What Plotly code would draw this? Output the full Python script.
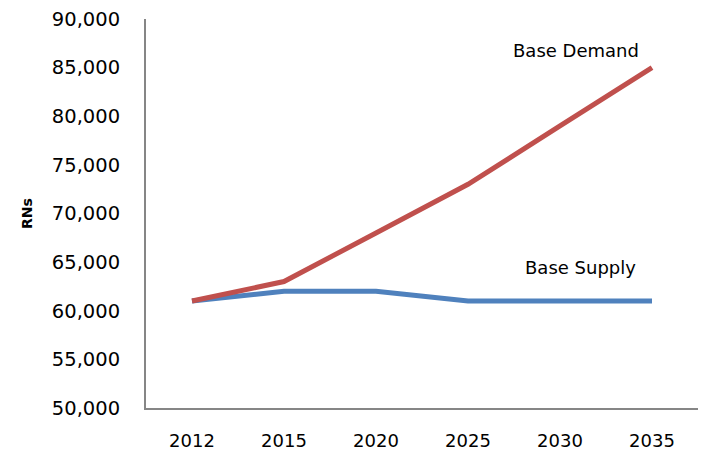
import plotly.graph_objects as go

years = ["2012", "2015", "2020", "2025", "2030", "2035"]
base_demand = [61000, 63000, 68000, 73000, 79000, 85000]
base_supply = [61000, 62000, 62000, 61000, 61000, 61000]
y_ticks = [50000, 55000, 60000, 65000, 70000, 75000, 80000, 85000, 90000]

FONT = "DejaVu Sans"

fig = go.Figure()
fig.add_trace(go.Scatter(x=years, y=base_supply, mode="lines", name="Base Supply",
                         line=dict(color="#4F81BD", width=5)))
fig.add_trace(go.Scatter(x=years, y=base_demand, mode="lines", name="Base Demand",
                         line=dict(color="#C0504D", width=5)))

fig.update_layout(
    width=706, height=459,
    margin=dict(l=146, r=8, t=19, b=51),
    paper_bgcolor="white", plot_bgcolor="white",
    showlegend=False,
    font=dict(family=FONT, color="black"),
    xaxis=dict(type="category", range=[-0.5, 5.5], automargin=False,
               showline=True, linecolor="#868686", linewidth=2,
               showgrid=False, zeroline=False, ticks="", tickfont=dict(size=18, family=FONT),
               ticklabelstandoff=15),
    yaxis=dict(range=[50000, 90000], tickvals=y_ticks, tickformat=",d", automargin=False,
               showline=True, linecolor="#868686", linewidth=2,
               showgrid=False, zeroline=False, ticks="", tickfont=dict(size=19.5, family=FONT),
               ticklabelstandoff=20,
               title=dict(text="<b>RNs</b>", font=dict(size=14, family=FONT), standoff=16)),
    annotations=[
        dict(text="Base Demand", xref="paper", yref="paper", x=0.779, y=0.92,
             xanchor="center", yanchor="middle",
             showarrow=False, font=dict(size=18, family=FONT)),
        dict(text="Base Supply", xref="paper", yref="paper", x=0.788, y=0.36,
             xanchor="center", yanchor="middle",
             showarrow=False, font=dict(size=18, family=FONT)),
    ],
)

fig.write_html("out.html")
